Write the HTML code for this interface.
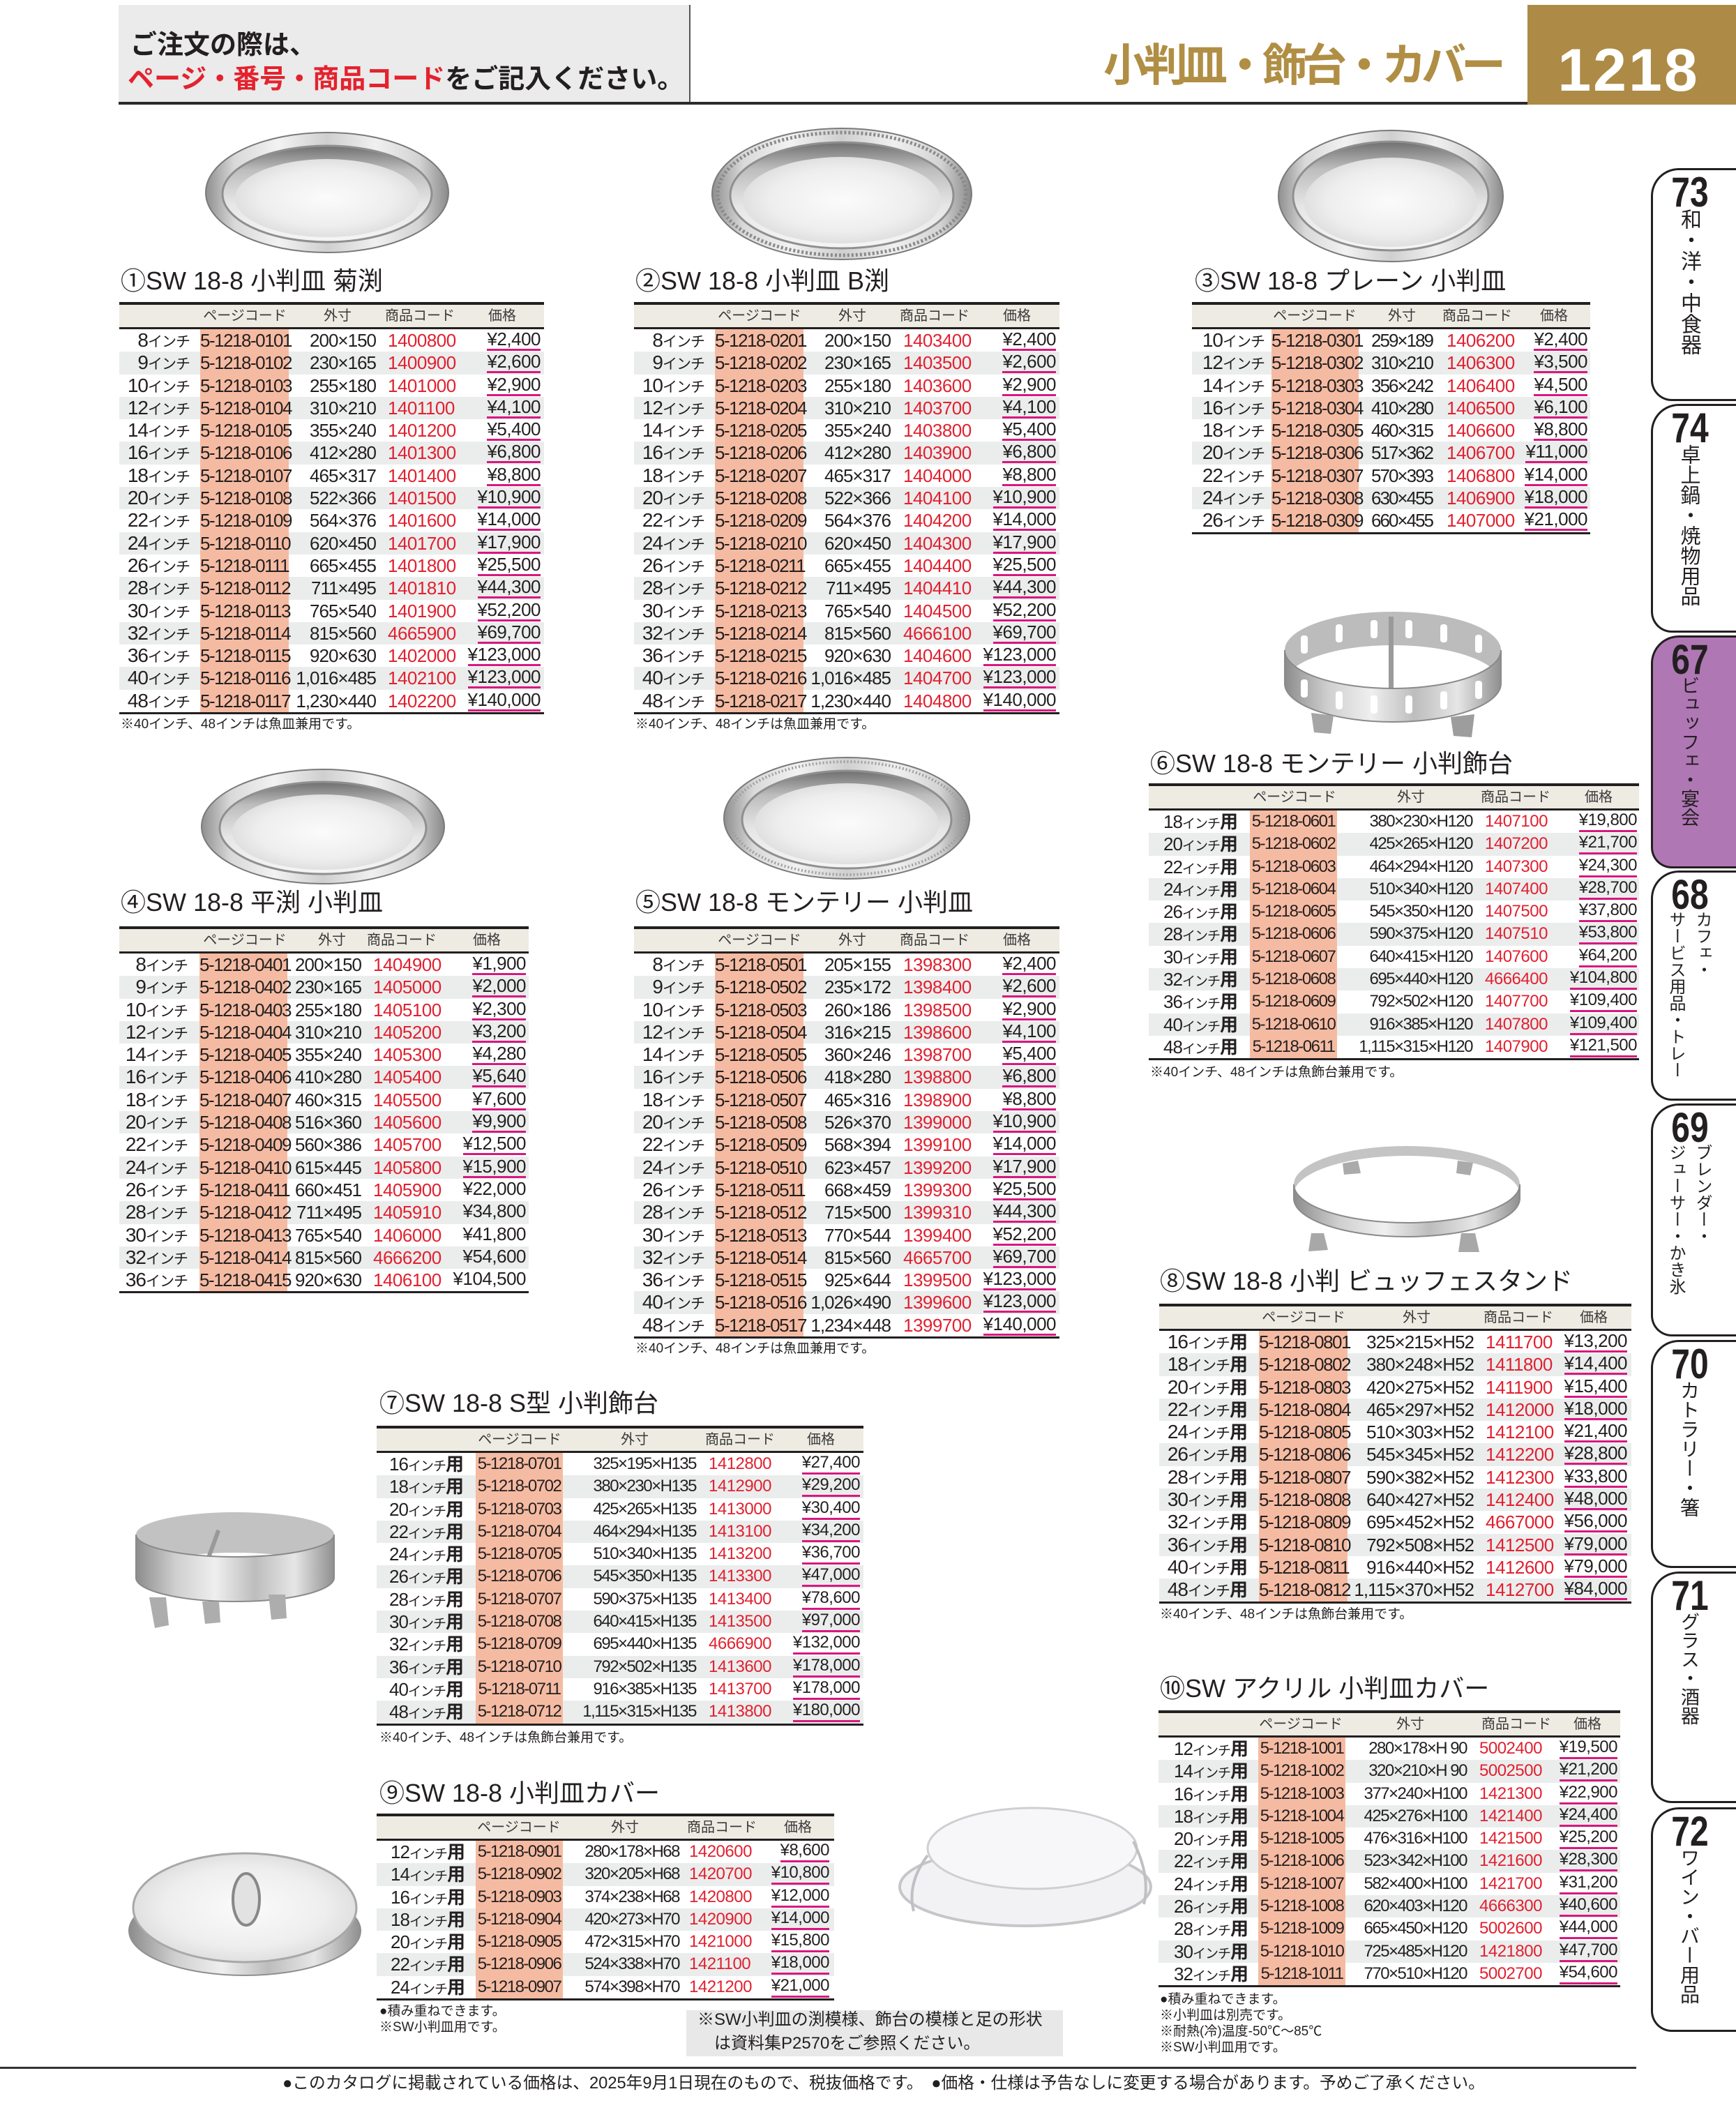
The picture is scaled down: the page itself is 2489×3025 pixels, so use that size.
<!DOCTYPE html>
<html lang="ja"><head><meta charset="utf-8"><title>小判皿・飾台・カバー 1218</title>
<style>
body{margin:0;width:2489px;height:3025px;position:relative;overflow:hidden;background:#fff;font-family:"Liberation Sans","Noto Sans CJK JP",sans-serif;color:#231f20}
.a{position:absolute;white-space:nowrap}
.ti{position:absolute;white-space:nowrap;font-size:36px;line-height:40px}
.no{position:absolute;white-space:nowrap;font-size:19px;line-height:23px}
.t{position:absolute}
.th{position:relative;height:39px;box-sizing:border-box;border-top:4px solid #231f20;border-bottom:3px solid #231f20;background:#eeebe3;font-size:20px;color:#3a3a3a}
.th span{position:absolute;top:0;line-height:32px;width:200px;text-align:center;white-space:nowrap}
.th .h1{left:calc(var(--h1) - 100px)}.th .h2{left:calc(var(--h2) - 100px)}.th .h3{left:calc(var(--h3) - 100px)}.th .h4{left:calc(var(--h4) - 100px)}
.r{position:relative;height:32.3px;font-size:26px;line-height:32px}
.r:nth-child(odd){background:#ebeded}
.r:last-child{border-bottom:3px solid #231f20}
.r span{position:absolute;top:0;white-space:nowrap;height:100%}
.s{left:0;width:var(--s);text-align:right;font-size:28px;letter-spacing:-1px}
.s small{font-size:21px;letter-spacing:-1px}
.s em{font-style:normal;font-weight:bold;font-size:26px;letter-spacing:0}
.p{left:var(--pl);width:var(--pw);background:#f5bba2;text-align:center;letter-spacing:-1.5px}
.d{left:0;width:var(--d);text-align:right;letter-spacing:-1px}
.c{left:var(--c);color:#e2202f;letter-spacing:-.5px}
.y{left:0;width:var(--y);display:flex;justify-content:flex-end;align-items:flex-start}
.y b{font-weight:normal;line-height:28px;border-bottom:3px solid #d8187f;letter-spacing:-.5px}
.y b.n{border-color:transparent}
.sm .r{font-size:24px}.sm .s{font-size:26px}.sm .s small{font-size:19px}.sm .p,.sm .d{letter-spacing:-1.5px}
.t3 .d{letter-spacing:-2px}
.tab{position:absolute;left:2367px;width:140px;box-sizing:border-box;border:3px solid #231f20;border-right:0;border-radius:40px 0 0 30px;background:#fff}
.tab .nm{position:absolute;left:0;width:106px;top:2px;text-align:center;font-weight:bold;font-size:60px;line-height:60px;transform:scaleX(.8)}
.tab .vt{position:absolute;top:55px;left:35px;writing-mode:vertical-rl;font-size:29px;line-height:32px;white-space:nowrap}
.tab .v2{left:13px;font-size:24px;line-height:38px}
</style></head><body>

<svg width="2489" height="3025" style="position:absolute;left:0;top:0" xmlns="http://www.w3.org/2000/svg">
<defs>
<linearGradient id="rim" x1="0" x2="1" y1="0" y2="0"><stop offset="0" stop-color="#8f8f8f"/><stop offset=".12" stop-color="#d9d9d9"/><stop offset=".3" stop-color="#f2f2f2"/><stop offset=".5" stop-color="#cfcfcf"/><stop offset=".7" stop-color="#f0f0f0"/><stop offset=".88" stop-color="#d3d3d3"/><stop offset="1" stop-color="#8a8a8a"/></linearGradient>
<linearGradient id="bowl" x1="0" x2="0" y1="0" y2="1"><stop offset="0" stop-color="#6f6f6f"/><stop offset=".25" stop-color="#bdbdbd"/><stop offset=".6" stop-color="#e6e6e6"/><stop offset="1" stop-color="#f5f5f5"/></linearGradient>
<radialGradient id="dish" cx=".5" cy=".5" r=".6"><stop offset="0" stop-color="#fbfbfb"/><stop offset=".6" stop-color="#eeeeee"/><stop offset="1" stop-color="#d6d6d6"/></radialGradient>
<linearGradient id="band" x1="0" x2="1" y1="0" y2="0"><stop offset="0" stop-color="#8c8c8c"/><stop offset=".2" stop-color="#cfcfcf"/><stop offset=".4" stop-color="#efefef"/><stop offset=".6" stop-color="#bdbdbd"/><stop offset=".8" stop-color="#e6e6e6"/><stop offset="1" stop-color="#8f8f8f"/></linearGradient>
</defs>
<ellipse cx="469" cy="276" rx="174" ry="86" fill="url(#rim)" stroke="#7a7a7a" stroke-width="2"/>
<ellipse cx="469" cy="278" rx="150" ry="69" fill="url(#bowl)" stroke="#8f8f8f" stroke-width="3"/>
<ellipse cx="469" cy="284" rx="132" ry="56" fill="url(#dish)"/>
<ellipse cx="1207" cy="278" rx="186" ry="94" fill="url(#rim)" stroke="#7a7a7a" stroke-width="2"/>
<ellipse cx="1207" cy="278" rx="178" ry="88" fill="none" stroke="#8a8a8a" stroke-width="5" stroke-dasharray="3 3"/>
<ellipse cx="1207" cy="280" rx="160" ry="76" fill="url(#bowl)" stroke="#8f8f8f" stroke-width="3"/>
<ellipse cx="1207" cy="287" rx="142" ry="62" fill="url(#dish)"/>
<ellipse cx="1994" cy="281" rx="161" ry="94" fill="url(#rim)" stroke="#7a7a7a" stroke-width="2"/>
<ellipse cx="1994" cy="281" rx="140" ry="78" fill="url(#bowl)" stroke="#8f8f8f" stroke-width="3"/>
<ellipse cx="1994" cy="290" rx="124" ry="64" fill="url(#dish)"/>
<ellipse cx="463" cy="1185" rx="174" ry="82" fill="url(#rim)" stroke="#7a7a7a" stroke-width="2"/>
<ellipse cx="463" cy="1187" rx="148" ry="66" fill="url(#bowl)" stroke="#8f8f8f" stroke-width="3"/>
<ellipse cx="463" cy="1193" rx="130" ry="54" fill="url(#dish)"/>
<ellipse cx="1214" cy="1173" rx="176" ry="87" fill="url(#rim)" stroke="#7a7a7a" stroke-width="2"/>
<ellipse cx="1214" cy="1173" rx="168" ry="81" fill="none" stroke="#a0a0a0" stroke-width="4" stroke-dasharray="2 3"/>
<ellipse cx="1214" cy="1175" rx="150" ry="70" fill="url(#bowl)" stroke="#8f8f8f" stroke-width="3"/>
<ellipse cx="1214" cy="1181" rx="132" ry="58" fill="url(#dish)"/>
<path d="M1842,932 A155,55 0 0 1 2152,932 L2152,980 A155,55 0 0 0 1842,980 Z" fill="#bcbcbc"/>
<g fill="#fff"><rect x="1865" y="911" width="10" height="26" rx="4"/><rect x="1915" y="895" width="10" height="26" rx="4"/><rect x="1965" y="889" width="10" height="26" rx="4"/><rect x="2015" y="889" width="10" height="26" rx="4"/><rect x="2065" y="895" width="10" height="26" rx="4"/><rect x="2115" y="910" width="10" height="26" rx="4"/></g>
<rect x="1991" y="884" width="7" height="130" fill="#9a9a9a"/>
<path d="M1842,932 A155,55 0 0 0 2152,932 L2152,980 A155,55 0 0 1 1842,980 Z" fill="url(#band)" stroke="#8a8a8a" stroke-width="2"/>
<g fill="#fff"><rect x="1865" y="974" width="10" height="26" rx="4"/><rect x="1915" y="991" width="10" height="26" rx="4"/><rect x="1965" y="997" width="10" height="26" rx="4"/><rect x="2015" y="997" width="10" height="26" rx="4"/><rect x="2065" y="991" width="10" height="26" rx="4"/><rect x="2115" y="976" width="10" height="26" rx="4"/></g>
<path d="M1880,1022 L1912,1026 L1908,1052 L1884,1050 Z" fill="#a5a5a5"/>
<path d="M2080,1028 L2114,1024 L2110,1057 L2084,1055 Z" fill="#9d9d9d"/>
<path d="M1855,1698 A162,55 0 0 1 2179,1698 L2179,1712 A162,55 0 0 0 1855,1712 Z" fill="#c4c4c4"/>
<path d="M1925,1668 l22,-4 l4,18 l-24,2 Z M2090,1664 l22,3 l-4,18 l-20,-3 Z" fill="#aaa"/>
<path d="M1855,1698 A162,55 0 0 0 2179,1698 L2179,1718 A162,55 0 0 1 1855,1718 Z" fill="url(#band)" stroke="#8a8a8a" stroke-width="2"/>
<path d="M1880,1768 l18,0 l6,24 l-28,2 Z M2095,1768 l20,0 l6,27 l-30,0 Z" fill="#a8a8a8"/>
<path d="M195,2200 A142,32 0 0 1 479,2200 L479,2258 A142,32 0 0 0 195,2258 Z" fill="#c2c2c2"/>
<rect x="300" y="2192" width="6" height="60" fill="#999" transform="rotate(20 303 2222)"/>
<path d="M195,2200 A142,32 0 0 0 479,2200 L479,2262 A142,34 0 0 1 195,2262 Z" fill="url(#band)" stroke="#8a8a8a" stroke-width="2"/>
<path d="M214,2290 l24,0 l4,40 l-20,4 Z M290,2296 l24,0 l2,30 l-22,2 Z M385,2286 l24,0 l2,34 l-22,2 Z" fill="#adadad"/>
<ellipse cx="351" cy="2768" rx="166" ry="64" fill="url(#band)" stroke="#8f8f8f" stroke-width="2"/>
<ellipse cx="351" cy="2735" rx="160" ry="78" fill="url(#dish)" stroke="#a8a8a8" stroke-width="3"/>
<ellipse cx="353" cy="2723" rx="19" ry="37" fill="#e2e2e2" stroke="#888" stroke-width="4"/>
<ellipse cx="1470" cy="2705" rx="180" ry="56" fill="#f2f2f4" stroke="#c6c6c8" stroke-width="4"/>
<ellipse cx="1480" cy="2650" rx="150" ry="58" fill="#f7f7f9" stroke="#cfcfd2" stroke-width="3"/>
<path d="M1330,2660 Q1300,2700 1310,2740 M1625,2640 Q1650,2690 1640,2730" fill="none" stroke="#c0c0c4" stroke-width="4"/>
</svg>

<div class="a" style="left:170px;top:7px;width:818px;height:140px;background:#ebebeb;border-right:2px solid #555"></div>
<div class="a" style="left:187px;top:44px;font-size:38px;line-height:42px;font-weight:bold">ご注文の際は、</div>
<div class="a" style="left:183px;top:93px;font-size:38px;line-height:42px;font-weight:bold"><span style="color:#e4222e">ページ・番号・商品コード</span>をご記入ください。</div>
<div class="a" style="left:170px;top:146px;width:2020px;height:4px;background:#2b2b2b"></div>
<div class="a" style="right:337px;top:62px;font-size:64px;line-height:64px;font-weight:bold;color:#b08e44;letter-spacing:-7px">小判皿・飾台・カバー</div>
<div class="a" style="left:2190px;top:7px;width:299px;height:143px;background:#ad8b46"></div>
<div class="a" style="left:2190px;top:58px;width:290px;text-align:center;font-size:86px;line-height:86px;font-weight:bold;color:#fff;letter-spacing:3px">1218</div>

<div class="tab" style="top:241px;height:334px"><div class="nm">73</div><div class="vt" style="font-size:30px">和・洋・中食器</div></div>
<div class="tab" style="top:579px;height:328px"><div class="nm">74</div><div class="vt">卓上鍋・焼物用品</div></div>
<div class="tab" style="top:911px;height:334px;background:#b077b5"><div class="nm">67</div><div class="vt" style="font-size:27px">ビュッフェ・宴会</div></div>
<div class="tab" style="top:1248px;height:330px"><div class="nm">68</div><div class="vt v2">カフェ・<br>サービス用品・トレー</div></div>
<div class="tab" style="top:1582px;height:334px"><div class="nm">69</div><div class="vt v2">ブレンダー・<br>ジューサー・かき氷</div></div>
<div class="tab" style="top:1921px;height:327px"><div class="nm">70</div><div class="vt" style="font-size:28px">カトラリー・箸</div></div>
<div class="tab" style="top:2253px;height:332px"><div class="nm">71</div><div class="vt" style="font-size:27px">グラス・酒器</div></div>
<div class="tab" style="top:2591px;height:322px"><div class="nm">72</div><div class="vt" style="font-size:28px">ワイン・バー用品</div></div>

<div class="ti" style="left:173px;top:383px">①SW 18-8 小判皿 菊渕</div>
<div class="ti" style="left:911px;top:383px">②SW 18-8 小判皿 B渕</div>
<div class="ti" style="left:1713px;top:383px">③SW 18-8 プレーン 小判皿</div>
<div class="ti" style="left:1649px;top:1075px">⑥SW 18-8 モンテリー 小判飾台</div>
<div class="ti" style="left:173px;top:1274px">④SW 18-8 平渕 小判皿</div>
<div class="ti" style="left:911px;top:1274px">⑤SW 18-8 モンテリー 小判皿</div>
<div class="ti" style="left:1663px;top:1817px">⑧SW 18-8 小判 ビュッフェスタンド</div>
<div class="ti" style="left:544px;top:1992px">⑦SW 18-8 S型 小判飾台</div>
<div class="ti" style="left:1663px;top:2401px">⑩SW アクリル 小判皿カバー</div>
<div class="ti" style="left:544px;top:2551px">⑨SW 18-8 小判皿カバー</div>

<div class="t" style="left:171px;top:433px;width:609px;--s:101px;--pl:116px;--pw:127px;--d:368px;--c:385px;--y:604px;--h1:180px;--h2:313px;--h3:431px;--h4:549px">
<div class="th"><span class="h1">ページコード</span><span class="h2">外寸</span><span class="h3">商品コード</span><span class="h4">価格</span></div>
<div class="r"><span class="s">8<small>インチ</small></span><span class="p">5-1218-0101</span><span class="d">200×150</span><span class="c">1400800</span><span class="y"><b>¥2,400</b></span></div>
<div class="r"><span class="s">9<small>インチ</small></span><span class="p">5-1218-0102</span><span class="d">230×165</span><span class="c">1400900</span><span class="y"><b>¥2,600</b></span></div>
<div class="r"><span class="s">10<small>インチ</small></span><span class="p">5-1218-0103</span><span class="d">255×180</span><span class="c">1401000</span><span class="y"><b>¥2,900</b></span></div>
<div class="r"><span class="s">12<small>インチ</small></span><span class="p">5-1218-0104</span><span class="d">310×210</span><span class="c">1401100</span><span class="y"><b>¥4,100</b></span></div>
<div class="r"><span class="s">14<small>インチ</small></span><span class="p">5-1218-0105</span><span class="d">355×240</span><span class="c">1401200</span><span class="y"><b>¥5,400</b></span></div>
<div class="r"><span class="s">16<small>インチ</small></span><span class="p">5-1218-0106</span><span class="d">412×280</span><span class="c">1401300</span><span class="y"><b>¥6,800</b></span></div>
<div class="r"><span class="s">18<small>インチ</small></span><span class="p">5-1218-0107</span><span class="d">465×317</span><span class="c">1401400</span><span class="y"><b>¥8,800</b></span></div>
<div class="r"><span class="s">20<small>インチ</small></span><span class="p">5-1218-0108</span><span class="d">522×366</span><span class="c">1401500</span><span class="y"><b>¥10,900</b></span></div>
<div class="r"><span class="s">22<small>インチ</small></span><span class="p">5-1218-0109</span><span class="d">564×376</span><span class="c">1401600</span><span class="y"><b>¥14,000</b></span></div>
<div class="r"><span class="s">24<small>インチ</small></span><span class="p">5-1218-0110</span><span class="d">620×450</span><span class="c">1401700</span><span class="y"><b>¥17,900</b></span></div>
<div class="r"><span class="s">26<small>インチ</small></span><span class="p">5-1218-0111</span><span class="d">665×455</span><span class="c">1401800</span><span class="y"><b>¥25,500</b></span></div>
<div class="r"><span class="s">28<small>インチ</small></span><span class="p">5-1218-0112</span><span class="d">711×495</span><span class="c">1401810</span><span class="y"><b>¥44,300</b></span></div>
<div class="r"><span class="s">30<small>インチ</small></span><span class="p">5-1218-0113</span><span class="d">765×540</span><span class="c">1401900</span><span class="y"><b>¥52,200</b></span></div>
<div class="r"><span class="s">32<small>インチ</small></span><span class="p">5-1218-0114</span><span class="d">815×560</span><span class="c">4665900</span><span class="y"><b>¥69,700</b></span></div>
<div class="r"><span class="s">36<small>インチ</small></span><span class="p">5-1218-0115</span><span class="d">920×630</span><span class="c">1402000</span><span class="y"><b>¥123,000</b></span></div>
<div class="r"><span class="s">40<small>インチ</small></span><span class="p">5-1218-0116</span><span class="d">1,016×485</span><span class="c">1402100</span><span class="y"><b>¥123,000</b></span></div>
<div class="r"><span class="s">48<small>インチ</small></span><span class="p">5-1218-0117</span><span class="d">1,230×440</span><span class="c">1402200</span><span class="y"><b>¥140,000</b></span></div>
</div>
<div class="no" style="left:173px;top:1027px">※40インチ、48インチは魚皿兼用です。</div>

<div class="t" style="left:909px;top:433px;width:610px;--s:101px;--pl:116px;--pw:127px;--d:368px;--c:386px;--y:605px;--h1:180px;--h2:313px;--h3:431px;--h4:549px">
<div class="th"><span class="h1">ページコード</span><span class="h2">外寸</span><span class="h3">商品コード</span><span class="h4">価格</span></div>
<div class="r"><span class="s">8<small>インチ</small></span><span class="p">5-1218-0201</span><span class="d">200×150</span><span class="c">1403400</span><span class="y"><b>¥2,400</b></span></div>
<div class="r"><span class="s">9<small>インチ</small></span><span class="p">5-1218-0202</span><span class="d">230×165</span><span class="c">1403500</span><span class="y"><b>¥2,600</b></span></div>
<div class="r"><span class="s">10<small>インチ</small></span><span class="p">5-1218-0203</span><span class="d">255×180</span><span class="c">1403600</span><span class="y"><b>¥2,900</b></span></div>
<div class="r"><span class="s">12<small>インチ</small></span><span class="p">5-1218-0204</span><span class="d">310×210</span><span class="c">1403700</span><span class="y"><b>¥4,100</b></span></div>
<div class="r"><span class="s">14<small>インチ</small></span><span class="p">5-1218-0205</span><span class="d">355×240</span><span class="c">1403800</span><span class="y"><b>¥5,400</b></span></div>
<div class="r"><span class="s">16<small>インチ</small></span><span class="p">5-1218-0206</span><span class="d">412×280</span><span class="c">1403900</span><span class="y"><b>¥6,800</b></span></div>
<div class="r"><span class="s">18<small>インチ</small></span><span class="p">5-1218-0207</span><span class="d">465×317</span><span class="c">1404000</span><span class="y"><b>¥8,800</b></span></div>
<div class="r"><span class="s">20<small>インチ</small></span><span class="p">5-1218-0208</span><span class="d">522×366</span><span class="c">1404100</span><span class="y"><b>¥10,900</b></span></div>
<div class="r"><span class="s">22<small>インチ</small></span><span class="p">5-1218-0209</span><span class="d">564×376</span><span class="c">1404200</span><span class="y"><b>¥14,000</b></span></div>
<div class="r"><span class="s">24<small>インチ</small></span><span class="p">5-1218-0210</span><span class="d">620×450</span><span class="c">1404300</span><span class="y"><b>¥17,900</b></span></div>
<div class="r"><span class="s">26<small>インチ</small></span><span class="p">5-1218-0211</span><span class="d">665×455</span><span class="c">1404400</span><span class="y"><b>¥25,500</b></span></div>
<div class="r"><span class="s">28<small>インチ</small></span><span class="p">5-1218-0212</span><span class="d">711×495</span><span class="c">1404410</span><span class="y"><b>¥44,300</b></span></div>
<div class="r"><span class="s">30<small>インチ</small></span><span class="p">5-1218-0213</span><span class="d">765×540</span><span class="c">1404500</span><span class="y"><b>¥52,200</b></span></div>
<div class="r"><span class="s">32<small>インチ</small></span><span class="p">5-1218-0214</span><span class="d">815×560</span><span class="c">4666100</span><span class="y"><b>¥69,700</b></span></div>
<div class="r"><span class="s">36<small>インチ</small></span><span class="p">5-1218-0215</span><span class="d">920×630</span><span class="c">1404600</span><span class="y"><b>¥123,000</b></span></div>
<div class="r"><span class="s">40<small>インチ</small></span><span class="p">5-1218-0216</span><span class="d">1,016×485</span><span class="c">1404700</span><span class="y"><b>¥123,000</b></span></div>
<div class="r"><span class="s">48<small>インチ</small></span><span class="p">5-1218-0217</span><span class="d">1,230×440</span><span class="c">1404800</span><span class="y"><b>¥140,000</b></span></div>
</div>
<div class="no" style="left:911px;top:1027px">※40インチ、48インチは魚皿兼用です。</div>

<div class="t t3" style="left:1709px;top:433px;width:571px;--s:104px;--pl:114px;--pw:125px;--d:345px;--c:365px;--y:567px;--h1:176px;--h2:301px;--h3:409px;--h4:519px">
<div class="th"><span class="h1">ページコード</span><span class="h2">外寸</span><span class="h3">商品コード</span><span class="h4">価格</span></div>
<div class="r"><span class="s">10<small>インチ</small></span><span class="p">5-1218-0301</span><span class="d">259×189</span><span class="c">1406200</span><span class="y"><b>¥2,400</b></span></div>
<div class="r"><span class="s">12<small>インチ</small></span><span class="p">5-1218-0302</span><span class="d">310×210</span><span class="c">1406300</span><span class="y"><b>¥3,500</b></span></div>
<div class="r"><span class="s">14<small>インチ</small></span><span class="p">5-1218-0303</span><span class="d">356×242</span><span class="c">1406400</span><span class="y"><b>¥4,500</b></span></div>
<div class="r"><span class="s">16<small>インチ</small></span><span class="p">5-1218-0304</span><span class="d">410×280</span><span class="c">1406500</span><span class="y"><b>¥6,100</b></span></div>
<div class="r"><span class="s">18<small>インチ</small></span><span class="p">5-1218-0305</span><span class="d">460×315</span><span class="c">1406600</span><span class="y"><b>¥8,800</b></span></div>
<div class="r"><span class="s">20<small>インチ</small></span><span class="p">5-1218-0306</span><span class="d">517×362</span><span class="c">1406700</span><span class="y"><b>¥11,000</b></span></div>
<div class="r"><span class="s">22<small>インチ</small></span><span class="p">5-1218-0307</span><span class="d">570×393</span><span class="c">1406800</span><span class="y"><b>¥14,000</b></span></div>
<div class="r"><span class="s">24<small>インチ</small></span><span class="p">5-1218-0308</span><span class="d">630×455</span><span class="c">1406900</span><span class="y"><b>¥18,000</b></span></div>
<div class="r"><span class="s">26<small>インチ</small></span><span class="p">5-1218-0309</span><span class="d">660×455</span><span class="c">1407000</span><span class="y"><b>¥21,000</b></span></div>
</div>

<div class="t sm" style="left:1647px;top:1123px;width:703px;--s:128px;--pl:145px;--pw:125px;--d:464px;--c:482px;--y:700px;--h1:209px;--h2:376px;--h3:526px;--h4:645px">
<div class="th"><span class="h1">ページコード</span><span class="h2">外寸</span><span class="h3">商品コード</span><span class="h4">価格</span></div>
<div class="r"><span class="s">18<small>インチ</small><em>用</em></span><span class="p">5-1218-0601</span><span class="d">380×230×H120</span><span class="c">1407100</span><span class="y"><b>¥19,800</b></span></div>
<div class="r"><span class="s">20<small>インチ</small><em>用</em></span><span class="p">5-1218-0602</span><span class="d">425×265×H120</span><span class="c">1407200</span><span class="y"><b>¥21,700</b></span></div>
<div class="r"><span class="s">22<small>インチ</small><em>用</em></span><span class="p">5-1218-0603</span><span class="d">464×294×H120</span><span class="c">1407300</span><span class="y"><b>¥24,300</b></span></div>
<div class="r"><span class="s">24<small>インチ</small><em>用</em></span><span class="p">5-1218-0604</span><span class="d">510×340×H120</span><span class="c">1407400</span><span class="y"><b>¥28,700</b></span></div>
<div class="r"><span class="s">26<small>インチ</small><em>用</em></span><span class="p">5-1218-0605</span><span class="d">545×350×H120</span><span class="c">1407500</span><span class="y"><b>¥37,800</b></span></div>
<div class="r"><span class="s">28<small>インチ</small><em>用</em></span><span class="p">5-1218-0606</span><span class="d">590×375×H120</span><span class="c">1407510</span><span class="y"><b>¥53,800</b></span></div>
<div class="r"><span class="s">30<small>インチ</small><em>用</em></span><span class="p">5-1218-0607</span><span class="d">640×415×H120</span><span class="c">1407600</span><span class="y"><b>¥64,200</b></span></div>
<div class="r"><span class="s">32<small>インチ</small><em>用</em></span><span class="p">5-1218-0608</span><span class="d">695×440×H120</span><span class="c">4666400</span><span class="y"><b>¥104,800</b></span></div>
<div class="r"><span class="s">36<small>インチ</small><em>用</em></span><span class="p">5-1218-0609</span><span class="d">792×502×H120</span><span class="c">1407700</span><span class="y"><b>¥109,400</b></span></div>
<div class="r"><span class="s">40<small>インチ</small><em>用</em></span><span class="p">5-1218-0610</span><span class="d">916×385×H120</span><span class="c">1407800</span><span class="y"><b>¥109,400</b></span></div>
<div class="r"><span class="s">48<small>インチ</small><em>用</em></span><span class="p">5-1218-0611</span><span class="d">1,115×315×H120</span><span class="c">1407900</span><span class="y"><b>¥121,500</b></span></div>
</div>
<div class="no" style="left:1649px;top:1526px">※40インチ、48インチは魚飾台兼用です。</div>

<div class="t" style="left:171px;top:1328px;width:587px;--s:98px;--pl:115px;--pw:126px;--d:347px;--c:364px;--y:583px;--h1:180px;--h2:305px;--h3:405px;--h4:527px">
<div class="th"><span class="h1">ページコード</span><span class="h2">外寸</span><span class="h3">商品コード</span><span class="h4">価格</span></div>
<div class="r"><span class="s">8<small>インチ</small></span><span class="p">5-1218-0401</span><span class="d">200×150</span><span class="c">1404900</span><span class="y"><b>¥1,900</b></span></div>
<div class="r"><span class="s">9<small>インチ</small></span><span class="p">5-1218-0402</span><span class="d">230×165</span><span class="c">1405000</span><span class="y"><b>¥2,000</b></span></div>
<div class="r"><span class="s">10<small>インチ</small></span><span class="p">5-1218-0403</span><span class="d">255×180</span><span class="c">1405100</span><span class="y"><b>¥2,300</b></span></div>
<div class="r"><span class="s">12<small>インチ</small></span><span class="p">5-1218-0404</span><span class="d">310×210</span><span class="c">1405200</span><span class="y"><b>¥3,200</b></span></div>
<div class="r"><span class="s">14<small>インチ</small></span><span class="p">5-1218-0405</span><span class="d">355×240</span><span class="c">1405300</span><span class="y"><b>¥4,280</b></span></div>
<div class="r"><span class="s">16<small>インチ</small></span><span class="p">5-1218-0406</span><span class="d">410×280</span><span class="c">1405400</span><span class="y"><b>¥5,640</b></span></div>
<div class="r"><span class="s">18<small>インチ</small></span><span class="p">5-1218-0407</span><span class="d">460×315</span><span class="c">1405500</span><span class="y"><b>¥7,600</b></span></div>
<div class="r"><span class="s">20<small>インチ</small></span><span class="p">5-1218-0408</span><span class="d">516×360</span><span class="c">1405600</span><span class="y"><b>¥9,900</b></span></div>
<div class="r"><span class="s">22<small>インチ</small></span><span class="p">5-1218-0409</span><span class="d">560×386</span><span class="c">1405700</span><span class="y"><b>¥12,500</b></span></div>
<div class="r"><span class="s">24<small>インチ</small></span><span class="p">5-1218-0410</span><span class="d">615×445</span><span class="c">1405800</span><span class="y"><b>¥15,900</b></span></div>
<div class="r"><span class="s">26<small>インチ</small></span><span class="p">5-1218-0411</span><span class="d">660×451</span><span class="c">1405900</span><span class="y"><b class="n">¥22,000</b></span></div>
<div class="r"><span class="s">28<small>インチ</small></span><span class="p">5-1218-0412</span><span class="d">711×495</span><span class="c">1405910</span><span class="y"><b class="n">¥34,800</b></span></div>
<div class="r"><span class="s">30<small>インチ</small></span><span class="p">5-1218-0413</span><span class="d">765×540</span><span class="c">1406000</span><span class="y"><b class="n">¥41,800</b></span></div>
<div class="r"><span class="s">32<small>インチ</small></span><span class="p">5-1218-0414</span><span class="d">815×560</span><span class="c">4666200</span><span class="y"><b class="n">¥54,600</b></span></div>
<div class="r"><span class="s">36<small>インチ</small></span><span class="p">5-1218-0415</span><span class="d">920×630</span><span class="c">1406100</span><span class="y"><b class="n">¥104,500</b></span></div>
</div>

<div class="t" style="left:909px;top:1328px;width:610px;--s:101px;--pl:116px;--pw:127px;--d:368px;--c:386px;--y:605px;--h1:180px;--h2:313px;--h3:431px;--h4:549px">
<div class="th"><span class="h1">ページコード</span><span class="h2">外寸</span><span class="h3">商品コード</span><span class="h4">価格</span></div>
<div class="r"><span class="s">8<small>インチ</small></span><span class="p">5-1218-0501</span><span class="d">205×155</span><span class="c">1398300</span><span class="y"><b>¥2,400</b></span></div>
<div class="r"><span class="s">9<small>インチ</small></span><span class="p">5-1218-0502</span><span class="d">235×172</span><span class="c">1398400</span><span class="y"><b>¥2,600</b></span></div>
<div class="r"><span class="s">10<small>インチ</small></span><span class="p">5-1218-0503</span><span class="d">260×186</span><span class="c">1398500</span><span class="y"><b>¥2,900</b></span></div>
<div class="r"><span class="s">12<small>インチ</small></span><span class="p">5-1218-0504</span><span class="d">316×215</span><span class="c">1398600</span><span class="y"><b>¥4,100</b></span></div>
<div class="r"><span class="s">14<small>インチ</small></span><span class="p">5-1218-0505</span><span class="d">360×246</span><span class="c">1398700</span><span class="y"><b>¥5,400</b></span></div>
<div class="r"><span class="s">16<small>インチ</small></span><span class="p">5-1218-0506</span><span class="d">418×280</span><span class="c">1398800</span><span class="y"><b>¥6,800</b></span></div>
<div class="r"><span class="s">18<small>インチ</small></span><span class="p">5-1218-0507</span><span class="d">465×316</span><span class="c">1398900</span><span class="y"><b>¥8,800</b></span></div>
<div class="r"><span class="s">20<small>インチ</small></span><span class="p">5-1218-0508</span><span class="d">526×370</span><span class="c">1399000</span><span class="y"><b>¥10,900</b></span></div>
<div class="r"><span class="s">22<small>インチ</small></span><span class="p">5-1218-0509</span><span class="d">568×394</span><span class="c">1399100</span><span class="y"><b>¥14,000</b></span></div>
<div class="r"><span class="s">24<small>インチ</small></span><span class="p">5-1218-0510</span><span class="d">623×457</span><span class="c">1399200</span><span class="y"><b>¥17,900</b></span></div>
<div class="r"><span class="s">26<small>インチ</small></span><span class="p">5-1218-0511</span><span class="d">668×459</span><span class="c">1399300</span><span class="y"><b>¥25,500</b></span></div>
<div class="r"><span class="s">28<small>インチ</small></span><span class="p">5-1218-0512</span><span class="d">715×500</span><span class="c">1399310</span><span class="y"><b>¥44,300</b></span></div>
<div class="r"><span class="s">30<small>インチ</small></span><span class="p">5-1218-0513</span><span class="d">770×544</span><span class="c">1399400</span><span class="y"><b>¥52,200</b></span></div>
<div class="r"><span class="s">32<small>インチ</small></span><span class="p">5-1218-0514</span><span class="d">815×560</span><span class="c">4665700</span><span class="y"><b>¥69,700</b></span></div>
<div class="r"><span class="s">36<small>インチ</small></span><span class="p">5-1218-0515</span><span class="d">925×644</span><span class="c">1399500</span><span class="y"><b>¥123,000</b></span></div>
<div class="r"><span class="s">40<small>インチ</small></span><span class="p">5-1218-0516</span><span class="d">1,026×490</span><span class="c">1399600</span><span class="y"><b>¥123,000</b></span></div>
<div class="r"><span class="s">48<small>インチ</small></span><span class="p">5-1218-0517</span><span class="d">1,234×448</span><span class="c">1399700</span><span class="y"><b>¥140,000</b></span></div>
</div>
<div class="no" style="left:911px;top:1922px">※40インチ、48インチは魚皿兼用です。</div>

<div class="t" style="left:1662px;top:1869px;width:677px;--s:127px;--pl:143px;--pw:127px;--d:451px;--c:468px;--y:671px;--h1:207px;--h2:369px;--h3:515px;--h4:623px">
<div class="th"><span class="h1">ページコード</span><span class="h2">外寸</span><span class="h3">商品コード</span><span class="h4">価格</span></div>
<div class="r"><span class="s">16<small>インチ</small><em>用</em></span><span class="p">5-1218-0801</span><span class="d">325×215×H52</span><span class="c">1411700</span><span class="y"><b>¥13,200</b></span></div>
<div class="r"><span class="s">18<small>インチ</small><em>用</em></span><span class="p">5-1218-0802</span><span class="d">380×248×H52</span><span class="c">1411800</span><span class="y"><b>¥14,400</b></span></div>
<div class="r"><span class="s">20<small>インチ</small><em>用</em></span><span class="p">5-1218-0803</span><span class="d">420×275×H52</span><span class="c">1411900</span><span class="y"><b>¥15,400</b></span></div>
<div class="r"><span class="s">22<small>インチ</small><em>用</em></span><span class="p">5-1218-0804</span><span class="d">465×297×H52</span><span class="c">1412000</span><span class="y"><b>¥18,000</b></span></div>
<div class="r"><span class="s">24<small>インチ</small><em>用</em></span><span class="p">5-1218-0805</span><span class="d">510×303×H52</span><span class="c">1412100</span><span class="y"><b>¥21,400</b></span></div>
<div class="r"><span class="s">26<small>インチ</small><em>用</em></span><span class="p">5-1218-0806</span><span class="d">545×345×H52</span><span class="c">1412200</span><span class="y"><b>¥28,800</b></span></div>
<div class="r"><span class="s">28<small>インチ</small><em>用</em></span><span class="p">5-1218-0807</span><span class="d">590×382×H52</span><span class="c">1412300</span><span class="y"><b>¥33,800</b></span></div>
<div class="r"><span class="s">30<small>インチ</small><em>用</em></span><span class="p">5-1218-0808</span><span class="d">640×427×H52</span><span class="c">1412400</span><span class="y"><b>¥48,000</b></span></div>
<div class="r"><span class="s">32<small>インチ</small><em>用</em></span><span class="p">5-1218-0809</span><span class="d">695×452×H52</span><span class="c">4667000</span><span class="y"><b>¥56,000</b></span></div>
<div class="r"><span class="s">36<small>インチ</small><em>用</em></span><span class="p">5-1218-0810</span><span class="d">792×508×H52</span><span class="c">1412500</span><span class="y"><b>¥79,000</b></span></div>
<div class="r"><span class="s">40<small>インチ</small><em>用</em></span><span class="p">5-1218-0811</span><span class="d">916×440×H52</span><span class="c">1412600</span><span class="y"><b>¥79,000</b></span></div>
<div class="r"><span class="s">48<small>インチ</small><em>用</em></span><span class="p">5-1218-0812</span><span class="d">1,115×370×H52</span><span class="c">1412700</span><span class="y"><b>¥84,000</b></span></div>
</div>
<div class="no" style="left:1663px;top:2303px">※40インチ、48インチは魚飾台兼用です。</div>

<div class="t sm" style="left:540px;top:2044px;width:698px;--s:125px;--pl:142px;--pw:125px;--d:458px;--c:476px;--y:693px;--h1:205px;--h2:370px;--h3:521px;--h4:637px">
<div class="th"><span class="h1">ページコード</span><span class="h2">外寸</span><span class="h3">商品コード</span><span class="h4">価格</span></div>
<div class="r"><span class="s">16<small>インチ</small><em>用</em></span><span class="p">5-1218-0701</span><span class="d">325×195×H135</span><span class="c">1412800</span><span class="y"><b>¥27,400</b></span></div>
<div class="r"><span class="s">18<small>インチ</small><em>用</em></span><span class="p">5-1218-0702</span><span class="d">380×230×H135</span><span class="c">1412900</span><span class="y"><b>¥29,200</b></span></div>
<div class="r"><span class="s">20<small>インチ</small><em>用</em></span><span class="p">5-1218-0703</span><span class="d">425×265×H135</span><span class="c">1413000</span><span class="y"><b>¥30,400</b></span></div>
<div class="r"><span class="s">22<small>インチ</small><em>用</em></span><span class="p">5-1218-0704</span><span class="d">464×294×H135</span><span class="c">1413100</span><span class="y"><b>¥34,200</b></span></div>
<div class="r"><span class="s">24<small>インチ</small><em>用</em></span><span class="p">5-1218-0705</span><span class="d">510×340×H135</span><span class="c">1413200</span><span class="y"><b>¥36,700</b></span></div>
<div class="r"><span class="s">26<small>インチ</small><em>用</em></span><span class="p">5-1218-0706</span><span class="d">545×350×H135</span><span class="c">1413300</span><span class="y"><b>¥47,000</b></span></div>
<div class="r"><span class="s">28<small>インチ</small><em>用</em></span><span class="p">5-1218-0707</span><span class="d">590×375×H135</span><span class="c">1413400</span><span class="y"><b>¥78,600</b></span></div>
<div class="r"><span class="s">30<small>インチ</small><em>用</em></span><span class="p">5-1218-0708</span><span class="d">640×415×H135</span><span class="c">1413500</span><span class="y"><b>¥97,000</b></span></div>
<div class="r"><span class="s">32<small>インチ</small><em>用</em></span><span class="p">5-1218-0709</span><span class="d">695×440×H135</span><span class="c">4666900</span><span class="y"><b>¥132,000</b></span></div>
<div class="r"><span class="s">36<small>インチ</small><em>用</em></span><span class="p">5-1218-0710</span><span class="d">792×502×H135</span><span class="c">1413600</span><span class="y"><b>¥178,000</b></span></div>
<div class="r"><span class="s">40<small>インチ</small><em>用</em></span><span class="p">5-1218-0711</span><span class="d">916×385×H135</span><span class="c">1413700</span><span class="y"><b>¥178,000</b></span></div>
<div class="r"><span class="s">48<small>インチ</small><em>用</em></span><span class="p">5-1218-0712</span><span class="d">1,115×315×H135</span><span class="c">1413800</span><span class="y"><b>¥180,000</b></span></div>
</div>
<div class="no" style="left:544px;top:2480px">※40インチ、48インチは魚飾台兼用です。</div>

<div class="t sm" style="left:1661px;top:2452px;width:662px;--s:129px;--pl:143px;--pw:125px;--d:442px;--c:460px;--y:658px;--h1:204px;--h2:361px;--h3:513px;--h4:615px">
<div class="th"><span class="h1">ページコード</span><span class="h2">外寸</span><span class="h3">商品コード</span><span class="h4">価格</span></div>
<div class="r"><span class="s">12<small>インチ</small><em>用</em></span><span class="p">5-1218-1001</span><span class="d">280×178×H 90</span><span class="c">5002400</span><span class="y"><b>¥19,500</b></span></div>
<div class="r"><span class="s">14<small>インチ</small><em>用</em></span><span class="p">5-1218-1002</span><span class="d">320×210×H 90</span><span class="c">5002500</span><span class="y"><b>¥21,200</b></span></div>
<div class="r"><span class="s">16<small>インチ</small><em>用</em></span><span class="p">5-1218-1003</span><span class="d">377×240×H100</span><span class="c">1421300</span><span class="y"><b>¥22,900</b></span></div>
<div class="r"><span class="s">18<small>インチ</small><em>用</em></span><span class="p">5-1218-1004</span><span class="d">425×276×H100</span><span class="c">1421400</span><span class="y"><b>¥24,400</b></span></div>
<div class="r"><span class="s">20<small>インチ</small><em>用</em></span><span class="p">5-1218-1005</span><span class="d">476×316×H100</span><span class="c">1421500</span><span class="y"><b>¥25,200</b></span></div>
<div class="r"><span class="s">22<small>インチ</small><em>用</em></span><span class="p">5-1218-1006</span><span class="d">523×342×H100</span><span class="c">1421600</span><span class="y"><b>¥28,300</b></span></div>
<div class="r"><span class="s">24<small>インチ</small><em>用</em></span><span class="p">5-1218-1007</span><span class="d">582×400×H100</span><span class="c">1421700</span><span class="y"><b>¥31,200</b></span></div>
<div class="r"><span class="s">26<small>インチ</small><em>用</em></span><span class="p">5-1218-1008</span><span class="d">620×403×H120</span><span class="c">4666300</span><span class="y"><b>¥40,600</b></span></div>
<div class="r"><span class="s">28<small>インチ</small><em>用</em></span><span class="p">5-1218-1009</span><span class="d">665×450×H120</span><span class="c">5002600</span><span class="y"><b>¥44,000</b></span></div>
<div class="r"><span class="s">30<small>インチ</small><em>用</em></span><span class="p">5-1218-1010</span><span class="d">725×485×H120</span><span class="c">1421800</span><span class="y"><b>¥47,700</b></span></div>
<div class="r"><span class="s">32<small>インチ</small><em>用</em></span><span class="p">5-1218-1011</span><span class="d">770×510×H120</span><span class="c">5002700</span><span class="y"><b>¥54,600</b></span></div>
</div>
<div class="no" style="left:1663px;top:2855px">●積み重ねできます。</div>
<div class="no" style="left:1663px;top:2878px">※小判皿は別売です。</div>
<div class="no" style="left:1663px;top:2901px">※耐熱(冷)温度-50℃～85℃</div>
<div class="no" style="left:1663px;top:2924px">※SW小判皿用です。</div>

<div class="t sm" style="left:540px;top:2600px;width:656px;--s:127px;--pl:142px;--pw:125px;--d:434px;--c:448px;--y:649px;--h1:204px;--h2:356px;--h3:495px;--h4:604px">
<div class="th"><span class="h1">ページコード</span><span class="h2">外寸</span><span class="h3">商品コード</span><span class="h4">価格</span></div>
<div class="r"><span class="s">12<small>インチ</small><em>用</em></span><span class="p">5-1218-0901</span><span class="d">280×178×H68</span><span class="c">1420600</span><span class="y"><b>¥8,600</b></span></div>
<div class="r"><span class="s">14<small>インチ</small><em>用</em></span><span class="p">5-1218-0902</span><span class="d">320×205×H68</span><span class="c">1420700</span><span class="y"><b>¥10,800</b></span></div>
<div class="r"><span class="s">16<small>インチ</small><em>用</em></span><span class="p">5-1218-0903</span><span class="d">374×238×H68</span><span class="c">1420800</span><span class="y"><b>¥12,000</b></span></div>
<div class="r"><span class="s">18<small>インチ</small><em>用</em></span><span class="p">5-1218-0904</span><span class="d">420×273×H70</span><span class="c">1420900</span><span class="y"><b>¥14,000</b></span></div>
<div class="r"><span class="s">20<small>インチ</small><em>用</em></span><span class="p">5-1218-0905</span><span class="d">472×315×H70</span><span class="c">1421000</span><span class="y"><b>¥15,800</b></span></div>
<div class="r"><span class="s">22<small>インチ</small><em>用</em></span><span class="p">5-1218-0906</span><span class="d">524×338×H70</span><span class="c">1421100</span><span class="y"><b>¥18,000</b></span></div>
<div class="r"><span class="s">24<small>インチ</small><em>用</em></span><span class="p">5-1218-0907</span><span class="d">574×398×H70</span><span class="c">1421200</span><span class="y"><b>¥21,000</b></span></div>
</div>
<div class="no" style="left:544px;top:2872px">●積み重ねできます。</div>
<div class="no" style="left:544px;top:2895px">※SW小判皿用です。</div>

<div class="a" style="left:984px;top:2882px;width:540px;height:66px;background:#e8e8e8"></div>
<div class="a" style="left:1000px;top:2882px;font-size:24px;line-height:28px">※SW小判皿の渕模様、飾台の模様と足の形状</div>
<div class="a" style="left:1024px;top:2916px;font-size:24px;line-height:28px">は資料集P2570をご参照ください。</div>

<div class="a" style="left:0;top:2963px;width:2346px;height:3px;background:#333"></div>
<div class="a" style="left:405px;top:2973px;font-size:23.7px;line-height:28px">●このカタログに掲載されている価格は、2025年9月1日現在のもので、税抜価格です。　●価格・仕様は予告なしに変更する場合があります。予めご了承ください。</div>

</body></html>
